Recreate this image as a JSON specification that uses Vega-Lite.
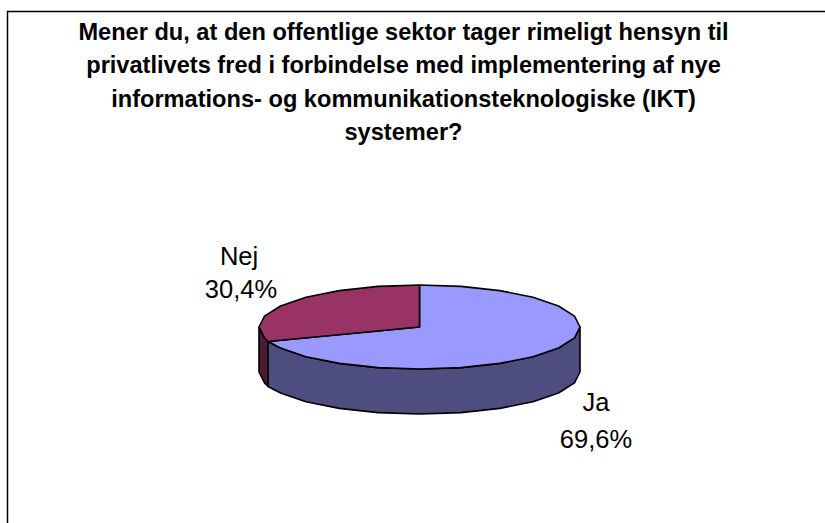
{"$schema":"https://vega.github.io/schema/vega-lite/v6.json","width":825,"height":523,"padding":0,"autosize":"none","background":"white","view":{"stroke":null},
"title":{"text":["Mener du, at den offentlige sektor tager rimeligt hensyn til","privatlivets fred i forbindelse med implementering af nye","informations- og kommunikationsteknologiske (IKT)","systemer?"],"font":"Liberation Sans","fontSize":23.6,"fontWeight":"bold","color":"black","lineHeight":33.5,"anchor":"middle","dx":-9,"dy":164,"baseline":"alphabetic","offset":0},
"datasets":{
"frame":[{"i":0,"x":7.5,"y":523},{"i":1,"x":7.5,"y":11.5},{"i":2,"x":825,"y":11.5}],
"pie":[
{"part":"Nej side","i":0,"x":259,"y":327},{"part":"Nej side","i":1,"x":264.5,"y":337.9},{"part":"Nej side","i":2,"x":268,"y":341.5},{"part":"Nej side","i":3,"x":268,"y":386.5},{"part":"Nej side","i":4,"x":264.5,"y":382.9},{"part":"Nej side","i":5,"x":259,"y":372},
{"part":"Ja side","i":0,"x":268,"y":341.5},{"part":"Ja side","i":1,"x":280.5,"y":348},{"part":"Ja side","i":2,"x":306,"y":356.7},{"part":"Ja side","i":3,"x":339.3,"y":363.4},{"part":"Ja side","i":4,"x":378,"y":367.6},{"part":"Ja side","i":5,"x":419.5,"y":369},{"part":"Ja side","i":6,"x":461,"y":367.6},{"part":"Ja side","i":7,"x":499.8,"y":363.4},{"part":"Ja side","i":8,"x":533,"y":356.7},{"part":"Ja side","i":9,"x":558.5,"y":348},{"part":"Ja side","i":10,"x":574.5,"y":337.9},{"part":"Ja side","i":11,"x":580,"y":327},{"part":"Ja side","i":12,"x":580,"y":372},{"part":"Ja side","i":13,"x":574.5,"y":382.9},{"part":"Ja side","i":14,"x":558.5,"y":393},{"part":"Ja side","i":15,"x":533,"y":401.7},{"part":"Ja side","i":16,"x":499.8,"y":408.4},{"part":"Ja side","i":17,"x":461,"y":412.6},{"part":"Ja side","i":18,"x":419.5,"y":414},{"part":"Ja side","i":19,"x":378,"y":412.6},{"part":"Ja side","i":20,"x":339.3,"y":408.4},{"part":"Ja side","i":21,"x":306,"y":401.7},{"part":"Ja side","i":22,"x":280.5,"y":393},{"part":"Ja side","i":23,"x":268,"y":386.5},
{"part":"Ja top","i":0,"x":419.5,"y":327},{"part":"Ja top","i":1,"x":419.5,"y":285},{"part":"Ja top","i":2,"x":461,"y":286.4},{"part":"Ja top","i":3,"x":499.8,"y":290.6},{"part":"Ja top","i":4,"x":533,"y":297.3},{"part":"Ja top","i":5,"x":558.5,"y":306},{"part":"Ja top","i":6,"x":574.5,"y":316.1},{"part":"Ja top","i":7,"x":580,"y":327},{"part":"Ja top","i":8,"x":574.5,"y":337.9},{"part":"Ja top","i":9,"x":558.5,"y":348},{"part":"Ja top","i":10,"x":533,"y":356.7},{"part":"Ja top","i":11,"x":499.8,"y":363.4},{"part":"Ja top","i":12,"x":461,"y":367.6},{"part":"Ja top","i":13,"x":419.5,"y":369},{"part":"Ja top","i":14,"x":378,"y":367.6},{"part":"Ja top","i":15,"x":339.3,"y":363.4},{"part":"Ja top","i":16,"x":306,"y":356.7},{"part":"Ja top","i":17,"x":280.5,"y":348},{"part":"Ja top","i":18,"x":268,"y":341.5},
{"part":"Nej top","i":0,"x":419.5,"y":327},{"part":"Nej top","i":1,"x":268,"y":341.5},{"part":"Nej top","i":2,"x":264.5,"y":337.9},{"part":"Nej top","i":3,"x":259,"y":327},{"part":"Nej top","i":4,"x":264.5,"y":316.1},{"part":"Nej top","i":5,"x":280.5,"y":306},{"part":"Nej top","i":6,"x":306,"y":297.3},{"part":"Nej top","i":7,"x":339.3,"y":290.6},{"part":"Nej top","i":8,"x":378,"y":286.4},{"part":"Nej top","i":9,"x":419.5,"y":285}
],
"labels":[{"t":"Nej","x":239,"y":257},{"t":"30,4%","x":241,"y":290},{"t":"Ja","x":596,"y":403},{"t":"69,6%","x":596,"y":440}]},
"layer":[
{"data":{"name":"frame"},"mark":{"type":"line","stroke":"black","strokeWidth":1.5,"interpolate":"linear"},"encoding":{"x":{"field":"x","type":"quantitative","scale":{"domain":[0,825]},"axis":null},"y":{"field":"y","type":"quantitative","scale":{"domain":[523,0]},"axis":null},"order":{"field":"i"}}},
{"data":{"name":"pie"},"mark":{"type":"line","stroke":"black","strokeWidth":1.6,"interpolate":"linear-closed","strokeJoin":"round"},"encoding":{"x":{"field":"x","type":"quantitative","scale":{"domain":[0,825]},"axis":null},"y":{"field":"y","type":"quantitative","scale":{"domain":[523,0]},"axis":null},"order":{"field":"i"},"detail":{"field":"part"},"fill":{"field":"part","type":"nominal","legend":null,"scale":{"domain":["Ja top","Nej top","Ja side","Nej side"],"range":["#9999FF","#993366","#4D4D80","#4D1A33"]}}}},
{"data":{"name":"labels"},"mark":{"type":"text","font":"Liberation Sans","fontSize":25.5,"color":"black","align":"center","baseline":"middle"},"encoding":{"x":{"field":"x","type":"quantitative","scale":{"domain":[0,825]},"axis":null},"y":{"field":"y","type":"quantitative","scale":{"domain":[523,0]},"axis":null},"text":{"field":"t"}}}
]}
